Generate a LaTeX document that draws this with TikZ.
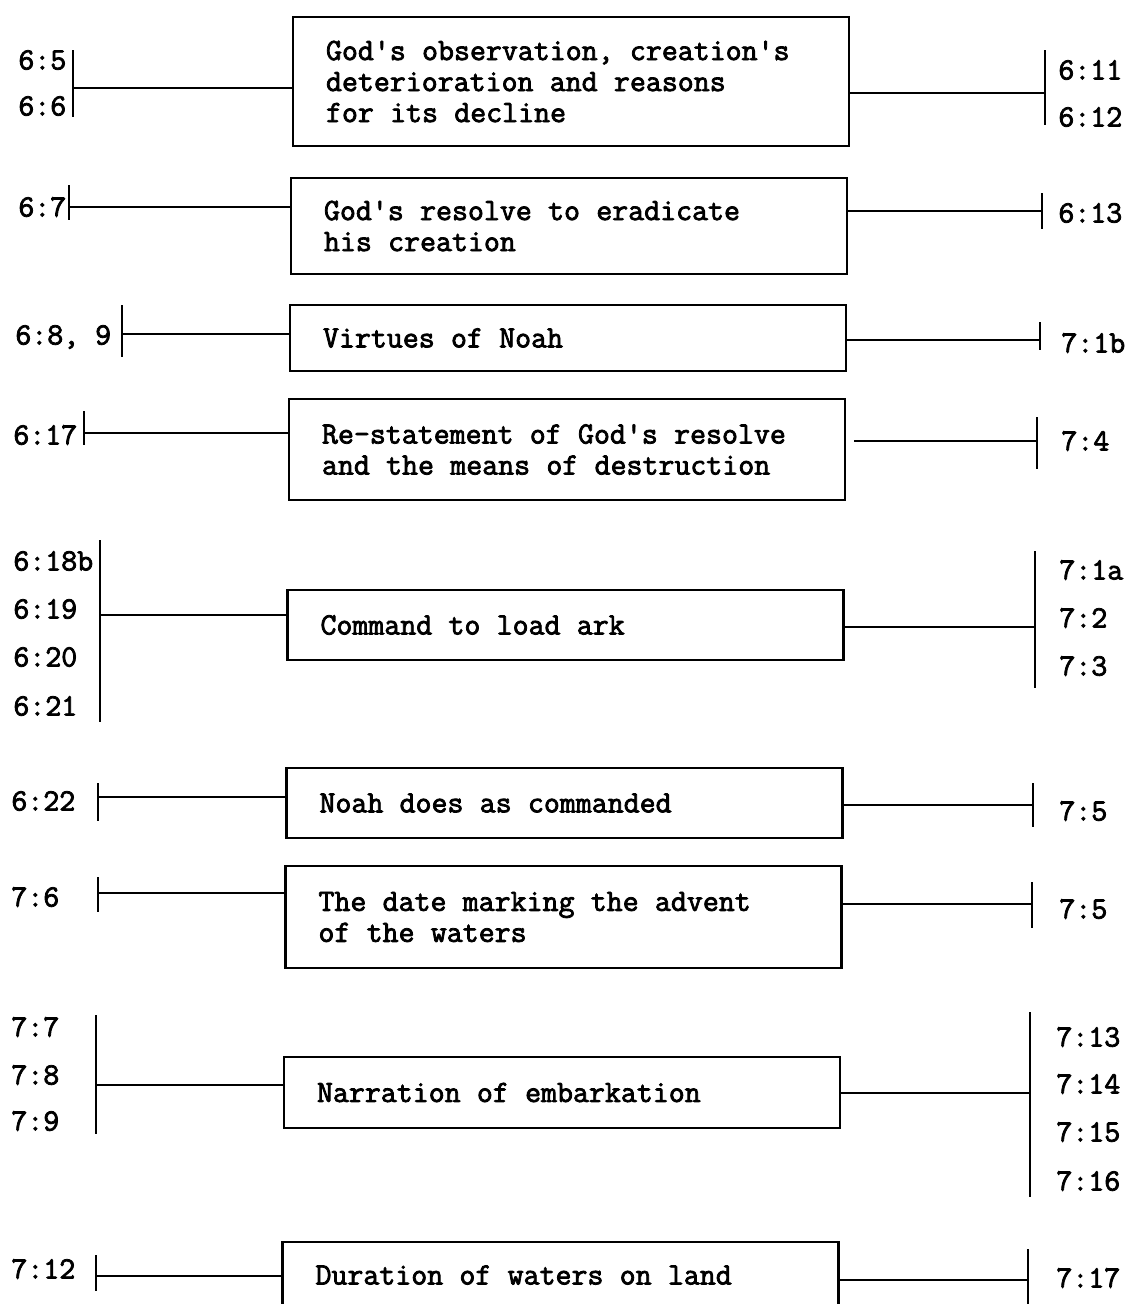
\documentclass[tikz,border=0pt]{standalone}
\usepackage{fontspec}
\setmonofont{Latin Modern Mono}[FakeBold=2.5]
\usetikzlibrary{calc}
\DeclareRobustCommand\typerfont{\ttfamily\fontsize{31}{31}\selectfont}

\begin{document}
\begin{tikzpicture}[x=1pt, y=-1pt, line width=2.8pt,
        font=\typerfont,
        episode/.style={draw, rectangle, minimum width=556pt,
              inner xsep=33pt, text width=490pt, align=left,
              execute at begin node={\spaceskip=0.525em\xspaceskip=0.525em\relax}},
        verse/.style={anchor=west, inner sep=0pt}]
        \useasboundingbox (0,0) rectangle (1130,1304);
        % boxes
        \node[episode, minimum height=129pt] (obs) at (571,81.5)
            {God's observation, creation's\\deterioration and reasons\\for its decline};
        \node[episode, minimum height=96pt] (resolve) at (569,226)
            {God's resolve to eradicate\\his creation};
        \node[episode, minimum height=66pt] (virtues) at (568,338) {Virtues of Noah};
        \node[episode, minimum height=101pt] (restate) at (567,449.5)
            {Re-statement of God's resolve\\and the means of destruction};
        \node[episode, minimum height=70pt] (command) at (565.5,625) {Command to load ark};
        \node[episode, minimum height=70pt] (obey) at (564.5,803) {Noah does as commanded};
        \node[episode, minimum height=102pt] (date) at (563.5,917)
            {The date marking the advent\\of the waters};
        \node[episode, minimum height=71pt] (embark) at (562,1092.5) {Narration of embarkation};
        \node[episode, minimum height=66pt] (duration) at (560.5,1275) {Duration of waters on land};
        % bracket hubs
        \coordinate (obsL) at (73,88);        \coordinate (obsR) at (1045,93);
        \coordinate (resolveL) at (69,207);   \coordinate (resolveR) at (1042,211);
        \coordinate (virtuesL) at (122,334);  \coordinate (virtuesR) at (1040,340);
        \coordinate (restateL) at (84,433);   \coordinate (restateR) at (1037,441);
        \coordinate (commandL) at (100,615);  \coordinate (commandR) at (1035,627);
        \coordinate (obeyL) at (98,797);      \coordinate (obeyR) at (1033,805);
        \coordinate (dateL) at (98,893);      \coordinate (dateR) at (1032,904);
        \coordinate (embarkL) at (96,1085);   \coordinate (embarkR) at (1030,1093);
        \coordinate (durationL) at (96,1276); \coordinate (durationR) at (1028,1280);
        % verse labels, left
        \node[verse] (v65)  at (17,60)   {6:5};
        \node[verse] (v66)  at (17,106)  {6:6};
        \node[verse] (v67)  at (17,207)  {6:7};
        \node[verse] (v689) at (14,337)  {6:8, 9};
        \node[verse] (v617) at (12,435)  {6:17};
        \node[verse] (v618) at (12,561)  {6:18b};
        \node[verse] (v619) at (12,609)  {6:19};
        \node[verse] (v620) at (12,657)  {6:20};
        \node[verse] (v621) at (12,706)  {6:21};
        \node[verse] (v622) at (10,801)  {6:22};
        \node[verse] (v76)  at (10,897)  {7:6};
        \node[verse] (v77)  at (10,1027) {7:7};
        \node[verse] (v78)  at (10,1075) {7:8};
        \node[verse] (v79)  at (10,1121) {7:9};
        \node[verse] (v712) at (10,1269) {7:12};
        % verse labels, right
        \node[verse] (v611) at (1057,70)   {6:11};
        \node[verse] (v612) at (1057,117)  {6:12};
        \node[verse] (v613) at (1057,213)  {6:13};
        \node[verse] (v71b) at (1060,343)  {7:1b};
        \node[verse] (v74)  at (1060,441)  {7:4};
        \node[verse] (v71a) at (1058,570)  {7:1a};
        \node[verse] (v72)  at (1058,618)  {7:2};
        \node[verse] (v73)  at (1058,666)  {7:3};
        \node[verse] (v75)  at (1058,811)  {7:5};
        \node[verse] (v75b) at (1058,909)  {7:5};
        \node[verse] (v713) at (1055,1037) {7:13};
        \node[verse] (v714) at (1055,1084) {7:14};
        \node[verse] (v715) at (1055,1132) {7:15};
        \node[verse] (v716) at (1055,1181) {7:16};
        \node[verse] (v717) at (1055,1278) {7:17};
        % brackets
        \draw (obsL |- 0,50) -- (obsL |- 0,117);
        \draw (obsR |- 0,50) -- (obsR |- 0,125);
        \draw (resolveL |- 0,185) -- (resolveL |- 0,220);
        \draw (resolveR |- 0,193) -- (resolveR |- 0,229);
        \draw (virtuesL |- 0,305) -- (virtuesL |- 0,357);
        \draw (virtuesR |- 0,322) -- (virtuesR |- 0,350);
        \draw (restateL |- 0,411) -- (restateL |- 0,445);
        \draw (restateR |- 0,417) -- (restateR |- 0,469);
        \draw (commandL |- 0,540) -- (commandL |- 0,722);
        \draw (commandR |- 0,551) -- (commandR |- 0,688);
        \draw (obeyL |- 0,783) -- (obeyL |- 0,821);
        \draw (obeyR |- 0,783) -- (obeyR |- 0,827);
        \draw (dateL |- 0,877) -- (dateL |- 0,912);
        \draw (dateR |- 0,882) -- (dateR |- 0,928);
        \draw (embarkL |- 0,1015) -- (embarkL |- 0,1134);
        \draw (embarkR |- 0,1012) -- (embarkR |- 0,1197);
        \draw (durationL |- 0,1255) -- (durationL |- 0,1291);
        \draw (durationR |- 0,1249) -- (durationR |- 0,1310);
        % connectors
        \draw (obsL) -- (obsL -| obs.west);
        \draw (obsR -| obs.east) -- (obsR);
        \draw (resolveL) -- (resolveL -| resolve.west);
        \draw (resolveR -| resolve.east) -- (resolveR);
        \draw (virtuesL) -- (virtuesL -| virtues.west);
        \draw (virtuesR -| virtues.east) -- (virtuesR);
        \draw (restateL) -- (restateL -| restate.west);
        \draw ($(restateR -| restate.east)+(8,0)$) -- (restateR);
        \draw (commandL) -- (commandL -| command.west);
        \draw (commandR -| command.east) -- (commandR);
        \draw (obeyL) -- (obeyL -| obey.west);
        \draw (obeyR -| obey.east) -- (obeyR);
        \draw (dateL) -- (dateL -| date.west);
        \draw (dateR -| date.east) -- (dateR);
        \draw (embarkL) -- (embarkL -| embark.west);
        \draw (embarkR -| embark.east) -- (embarkR);
        \draw (durationL) -- (durationL -| duration.west);
        \draw (durationR -| duration.east) -- (durationR);
    \end{tikzpicture}
\end{document}
